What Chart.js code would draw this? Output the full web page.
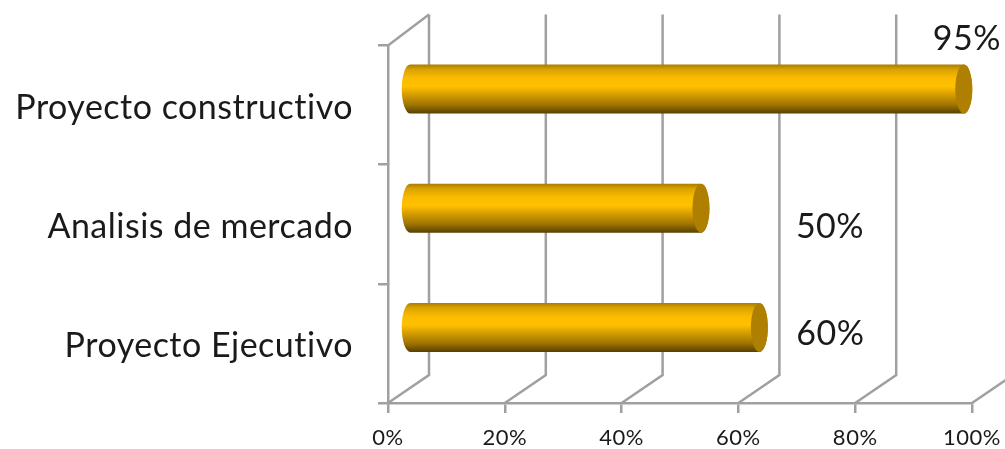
<!DOCTYPE html>
<html>
<head>
<meta charset="utf-8">
<style>
  html, body { margin: 0; padding: 0; background: #fff; overflow: hidden; }
  canvas { display: block; }
</style>
</head>
<body>
<canvas id="chart" width="1005" height="449"></canvas>
<script src="https://cdn.jsdelivr.net/npm/chart.js@4"></script>
<script>
// ── Data ───────────────────────────────────────────────────
const categories = ['Proyecto constructivo', 'Analisis de mercado', 'Proyecto Ejecutivo'];
const values     = [95, 50, 60];
const labels     = ['95%', '50%', '60%'];
const xTicks     = [0, 20, 40, 60, 80, 100];

// ── Fake 3D look ───────────────────────────────────────────
const FONT     = 'Lato';
const GRID_COL = '#a0a0a0';
const DEPTH_X  = 41;
const DEPTH_Y  = 28;
const BAR_DX   = 21;
const BAR_DY   = 16;
const LABEL_OFFSET = [[24, -66], [150, 3], [92, -9]];

// letter spacing widens the text a bit and switches off the "ti" ligature
const textPlugin = {
  id: 'textSpacing',
  beforeDraw(chart) {
    chart.ctx.letterSpacing = '0.5px';
  }
};

// walls behind the bars
const wallPlugin = {
  id: 'walls',
  beforeDatasetsDraw(chart) {
    const ctx = chart.ctx;
    const x = chart.scales.x;
    const area = chart.chartArea;
    ctx.save();
    ctx.strokeStyle = GRID_COL;
    ctx.lineWidth = 2.5;
    xTicks.forEach(function(t) {
      const px = x.getPixelForValue(t);
      ctx.beginPath();
      ctx.moveTo(px, area.bottom);
      ctx.lineTo(px + DEPTH_X, area.bottom - DEPTH_Y);
      ctx.lineTo(px + DEPTH_X, area.top - 31);
      ctx.stroke();
    });
    ctx.beginPath();
    ctx.moveTo(area.left, area.top);
    ctx.lineTo(area.left + DEPTH_X, area.top - 31);
    ctx.stroke();
    ctx.restore();
  }
};

// cylinders and their labels, placed from the bar elements
const cylinderPlugin = {
  id: 'cylinders',
  afterDatasetsDraw(chart) {
    const ctx = chart.ctx;
    const bars = chart.getDatasetMeta(0).data;
    bars.forEach(function(bar, i) {
      const left  = bar.base + BAR_DX;
      const right = bar.x + BAR_DX;
      const cy = bar.y - BAR_DY;
      const h  = bar.height;
      const top = cy - h / 2;
      const rx = 8.5;

      const grad = ctx.createLinearGradient(0, top, 0, top + h);
      grad.addColorStop(0, '#a87c00');
      grad.addColorStop(0.1, '#d9a200');
      grad.addColorStop(0.28, '#fbbc00');
      grad.addColorStop(0.45, '#ffc000');
      grad.addColorStop(0.62, '#d39c00');
      grad.addColorStop(0.82, '#a07500');
      grad.addColorStop(1, '#574000');

      ctx.save();
      ctx.fillStyle = grad;
      ctx.beginPath();
      ctx.ellipse(left, cy, rx, h / 2, 0, Math.PI / 2, Math.PI * 1.5);
      ctx.ellipse(right, cy, rx, h / 2, 0, -Math.PI / 2, Math.PI / 2);
      ctx.closePath();
      ctx.fill();

      ctx.fillStyle = '#ae7f00';
      ctx.beginPath();
      ctx.ellipse(right, cy, rx, h / 2, 0, 0, Math.PI * 2);
      ctx.fill();

      ctx.fillStyle = '#1a1a1a';
      ctx.font = '34px ' + FONT;
      ctx.textAlign = 'center';
      ctx.textBaseline = 'middle';
      ctx.fillText(labels[i], bar.x + LABEL_OFFSET[i][0], bar.y + LABEL_OFFSET[i][1]);
      ctx.restore();
    });
  }
};

new Chart(document.getElementById('chart'), {
  type: 'bar',
  data: {
    labels: categories,
    datasets: [{
      data: values,
      backgroundColor: 'transparent',
      barThickness: 49,
    }]
  },
  options: {
    indexAxis: 'y',
    responsive: false,
    animation: false,
    layout: { padding: { top: 44, right: 33 } },
    plugins: { legend: { display: false }, tooltip: { enabled: false } },
    scales: {
      x: {
        min: 0,
        max: 100,
        afterFit: function(axis) {
          axis.height = 46;
          // keep the plot edge fixed whatever the width of the last tick label
          axis.paddingLeft = 0;
          axis.paddingRight = 0;
        },
        afterBuildTicks: function(axis) {
          axis.ticks = xTicks.map(function(v) { return { value: v }; });
        },
        ticks: {
          color: '#1a1a1a',
          padding: 12,
          maxRotation: 0,
          font: { family: FONT, size: 22 },
          callback: function(v) { return v + '%'; }
        },
        grid: { drawOnChartArea: false, color: GRID_COL, lineWidth: 2.5, tickLength: 10 },
        border: { color: GRID_COL, width: 2.5 },
      },
      y: {
        afterFit: function(axis) { axis.width = 388; },
        ticks: {
          color: '#1a1a1a',
          padding: 25,
          labelOffset: 3,
          font: { family: FONT, size: 34 },
        },
        grid: { drawOnChartArea: false, color: GRID_COL, lineWidth: 2.5, tickLength: 10 },
        border: { color: GRID_COL, width: 2.5 },
      }
    }
  },
  plugins: [textPlugin, wallPlugin, cylinderPlugin]
});
</script>
</body>
</html>
